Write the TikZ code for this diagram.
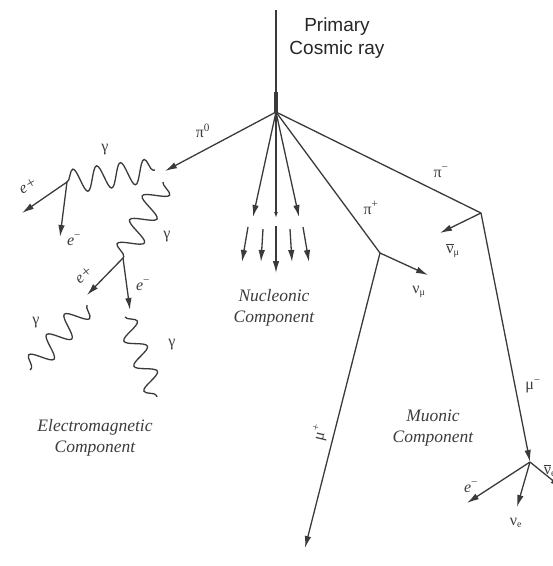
\documentclass[tikz,border=0pt]{standalone}
\usepackage{fontspec}
\setmainfont{Liberation Serif}
\newfontfamily\sansf{Liberation Sans}
\usetikzlibrary{arrows.meta,decorations.pathmorphing}
\definecolor{lc}{HTML}{3A3A3A}
\definecolor{tc}{HTML}{3C3C3C}
\newcommand{\nub}[1]{$\overline{\hbox{ν}}_{\hbox{\fontsize{10}{11}\selectfont #1}}$}
\newcommand{\nus}[1]{$\hbox{ν}_{\hbox{\fontsize{10}{11}\selectfont #1}}$}
\begin{document}
\begin{tikzpicture}[x=1pt,y=-1pt,
 ln/.style={draw=lc,line width=1.3pt},
 ar/.style={ln,-{Latex[length=12pt,width=6.5pt]}},
 wave/.style 2 args={ln,decorate,decoration={snake,amplitude=#1,segment length=#2}},
 lbl/.style={text=tc,font=\fontsize{16}{18}\selectfont,inner sep=0pt},
 comp/.style={text=tc,font=\fontsize{17.5}{21}\selectfont\itshape,align=center,inner sep=0pt},
 title/.style={text=black!85,font=\sansf\fontsize{19}{23}\selectfont,align=center,inner sep=0pt},
]
\useasboundingbox (0,0) rectangle (553,566);
\clip (0,0) rectangle (553,566);
% coordinates
\coordinate (top) at (276,10);
\coordinate (V) at (276,112);
\coordinate (Vt) at (276,92);
\coordinate (P0) at (165,171);
\coordinate (N1) at (253,217);
\coordinate (N2a) at (276,218);
\coordinate (N2b) at (276,226);
\coordinate (N2) at (276,273);
\coordinate (N3) at (299,217);
\coordinate (L1s) at (248,227); \coordinate (L1) at (242,262);
\coordinate (L2s) at (263,229); \coordinate (L2) at (261,262);
\coordinate (L4s) at (290,229); \coordinate (L4) at (292,262);
\coordinate (L5s) at (303,227); \coordinate (L5) at (309,262);
\coordinate (Pp) at (380,253);
\coordinate (Pm) at (481,213);
\coordinate (nbm) at (440,233);
\coordinate (nm) at (428,275);
\coordinate (mup) at (305,548);
\coordinate (Md) at (530,462);
\coordinate (emd) at (467,503);
\coordinate (nm2) at (517,507);
\coordinate (nbe) at (562,488);
\coordinate (E1) at (67,182);
\coordinate (g1e) at (155,170);
\coordinate (g2s) at (163,182);
\coordinate (E2) at (123,258);
\coordinate (ep1) at (22,213);
\coordinate (em1) at (60,237);
\coordinate (ep2) at (87,295);
\coordinate (em2) at (130,310);
\coordinate (g3s) at (87,305); \coordinate (g3e) at (30,370);
\coordinate (g4s) at (125,317); \coordinate (g4e) at (157,397);
% primary
\draw[ln] (top) -- (V);
\draw[ln,line width=3.2pt] (Vt) -- (V);
\node[title] (prim) at (337,38) {Primary\\Cosmic ray};
% pi0
\draw[ar] (V) -- (P0);
% nucleonic
\draw[ar] (V) -- (N1);
\draw[ar,-{Latex[length=6pt,width=4pt]}] (V) -- (N2a);
\draw[ar] (V) -- (N3);
\draw[ar] (N2b) -- (N2);
\draw[ar] (L1s) -- (L1);
\draw[ar] (L2s) -- (L2);
\draw[ar] (L4s) -- (L4);
\draw[ar] (L5s) -- (L5);
% pions
\draw[ln] (V) -- (Pp);
\draw[ln] (V) -- (Pm);
\draw[ar] (Pm) -- (nbm);
\draw[ar] (Pp) -- (nm);
\draw[ar] (Pp) -- (mup);
\draw[ar] (Pm) -- (Md);
\draw[ar] (Md) -- (emd);
\draw[ar] (Md) -- (nm2);
\draw[ar] (Md) -- (nbe);
% EM cascade
\draw[wave={12pt}{24pt}] (E1) -- (g1e);
\draw[wave={12pt}{27pt}] (g2s) -- (E2);
\draw[ar] (E1) -- (ep1);
\draw[ar] (E1) -- (em1);
\draw[ar] (E2) -- (ep2);
\draw[ar] (E2) -- (em2);
\draw[wave={11pt}{27pt}] (g3s) -- (g3e);
\draw[wave={10pt}{27pt}] (g4s) -- (g4e);
% labels
\node[lbl] (lpi0) at (203,131) {π\textsuperscript{0}};
\node[lbl] (lpim) at (441,172) {π\textsuperscript{−}};
\node[lbl] (lpip) at (371,208) {π\textsuperscript{+}};
\node[lbl] (lnbm) at (453,251) {\nub{μ}};
\node[lbl] (lnm) at (419,292) {\nus{μ}};
\node[lbl,rotate=76] (lmup) at (320,433) {μ\textsuperscript{+}};
\node[lbl] (lmum) at (533,386) {μ\textsuperscript{−}};
\node[lbl] (lnbe) at (550,471) {\nub{e}};
\node[lbl] (lem) at (471,487) {\textit{e}\textsuperscript{−}};
\node[lbl] (lne) at (516,523) {\nus{e}};
\node[lbl,rotate=30] (lep1) at (28,186) {\textit{e+}};
\node[lbl] (lem1) at (74,240) {\textit{e}\textsuperscript{−}};
\node[lbl,rotate=40] (lep2) at (84,275) {\textit{e+}};
\node[lbl] (lem2) at (143,285) {\textit{e}\textsuperscript{−}};
\node[lbl] (lg1) at (105,150) {γ};
\node[lbl] (lg2) at (167,237) {γ};
\node[lbl] (lg3) at (36,323) {γ};
\node[lbl] (lg4) at (172,345) {γ};
% component labels
\node[comp] (nuc) at (274,308) {Nucleonic\\Component};
\node[comp] (muo) at (433,428) {Muonic\\Component};
\node[comp] (elm) at (95,438) {Electromagnetic\\Component};
\end{tikzpicture}
\end{document}
